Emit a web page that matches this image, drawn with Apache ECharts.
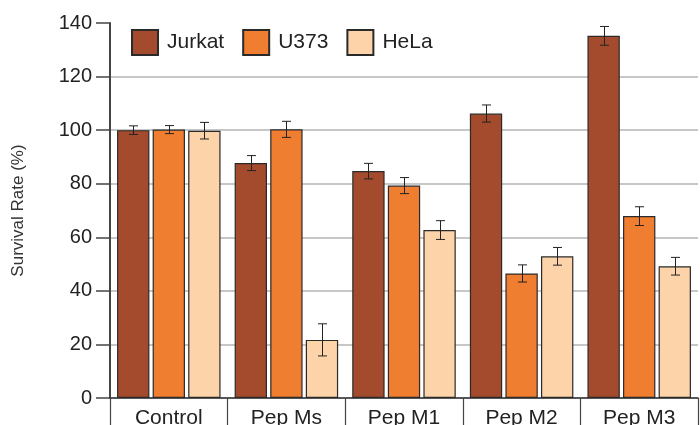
<!DOCTYPE html>
<html>
<head>
<meta charset="utf-8">
<script src="https://cdn.jsdelivr.net/npm/echarts@6/dist/echarts.min.js"></script>
<style>
  html, body { margin: 0; padding: 0; background: #fff; }
  #chart { width: 700px; height: 425px; }
</style>
</head>
<body>
<div id="chart"></div>
<script>
const categories = ["Control", "Pep Ms", "Pep M1", "Pep M2", "Pep M3"]
const seriesNames = ["Jurkat", "U373", "HeLa"]
const jurkat = [100.0, 87.7, 84.7, 106.2, 135.2]
const u373 = [100.2, 100.3, 79.3, 46.5, 67.9]
const hela = [99.8, 21.7, 62.7, 52.9, 49.2]
const jurkatErr = [1.6, 2.8, 2.9, 3.2, 3.5]
const u373Err = [1.5, 3.0, 3.0, 3.2, 3.5]
const helaErr = [3.1, 6.0, 3.5, 3.3, 3.3]
const colors = ["#a54b2d", "#f07e31", "#fdd4a9"]

const values = [jurkat, u373, hela]
const errors = [jurkatErr, u373Err, helaErr]

const CAT_GAP = 0.12
const BAR_GAP = 0.1
const FONT = "'Liberation Sans', Arial, sans-serif"

// [category index, low, high, series index] rows for the whisker series
const errorRows = []
values.forEach((vals, s) => {
  vals.forEach((v, i) => errorRows.push([i, v - errors[s][i], v + errors[s][i], s]))
})

// same bar layout as the bar series (barCategoryGap / barGap) so the whiskers sit centred
function renderError(params, api) {
  const cat = api.value(0)
  const s = api.value(3)
  const band = api.size([1, 0])[0]
  const n = seriesNames.length
  const bw = (band * (1 - CAT_GAP)) / (n + (n - 1) * BAR_GAP)
  const total = n * bw + (n - 1) * bw * BAR_GAP
  const low = api.coord([cat, api.value(1)])
  const high = api.coord([cat, api.value(2)])
  const x = Math.round(low[0] - total / 2 + bw / 2 + s * bw * (1 + BAR_GAP)) + 0.5
  const cap = 4.5
  const style = { stroke: "#222", lineWidth: 1 }
  return {
    type: "group",
    children: [
      { type: "line", shape: { x1: x, y1: low[1], x2: x, y2: high[1] }, style },
      { type: "line", shape: { x1: x - cap, y1: low[1], x2: x + cap, y2: low[1] }, style },
      { type: "line", shape: { x1: x - cap, y1: high[1], x2: x + cap, y2: high[1] }, style }
    ]
  }
}

const chart = echarts.init(document.getElementById("chart"))
chart.setOption({
  animation: false,
  textStyle: { fontFamily: FONT },
  legend: {
    left: 126,
    top: 24,
    icon: "rect",
    itemWidth: 26,
    itemHeight: 25,
    itemGap: 18,
    textStyle: { fontSize: 21, color: "#222", padding: [0, 0, 0, 4], fontFamily: FONT },
    data: seriesNames
  },
  // labels run off the bottom edge like the source figure, so keep the grid where it is
  grid: { left: 110, right: 2, top: 23, bottom: 27, containLabel: false, outerBoundsMode: "none" },
  xAxis: {
    type: "category",
    data: categories,
    axisLine: { lineStyle: { color: "#333", width: 1.5 } },
    axisTick: { show: true, length: 30, interval: 0, lineStyle: { color: "#444", width: 1.2 } },
    axisLabel: { fontSize: 21, color: "#222", margin: 10, interval: 0 }
  },
  yAxis: {
    type: "value",
    min: 0,
    max: 140,
    interval: 20,
    name: "Survival Rate (%)",
    nameLocation: "middle",
    nameGap: 83,
    nameTextStyle: { fontSize: 17, color: "#333" },
    axisLine: { show: true, lineStyle: { color: "#444", width: 2 } },
    axisTick: { show: true, length: 14, lineStyle: { color: "#444", width: 1.5 } },
    axisLabel: { fontSize: 20, color: "#222", margin: 18 },
    splitLine: { show: true, showMaxLine: false, lineStyle: { color: "#b4b4b4", width: 1.5 } }
  },
  series: [
    ...seriesNames.map((name, s) => ({
      name,
      type: "bar",
      data: values[s],
      barCategoryGap: "12%",
      barGap: "10%",
      itemStyle: { color: colors[s], borderColor: "#2a2a2a", borderWidth: 1.2 }
    })),
    {
      type: "custom",
      renderItem: renderError,
      encode: { x: 0, y: [1, 2] },
      data: errorRows,
      z: 10,
      silent: true
    }
  ]
})
</script>
</body>
</html>
